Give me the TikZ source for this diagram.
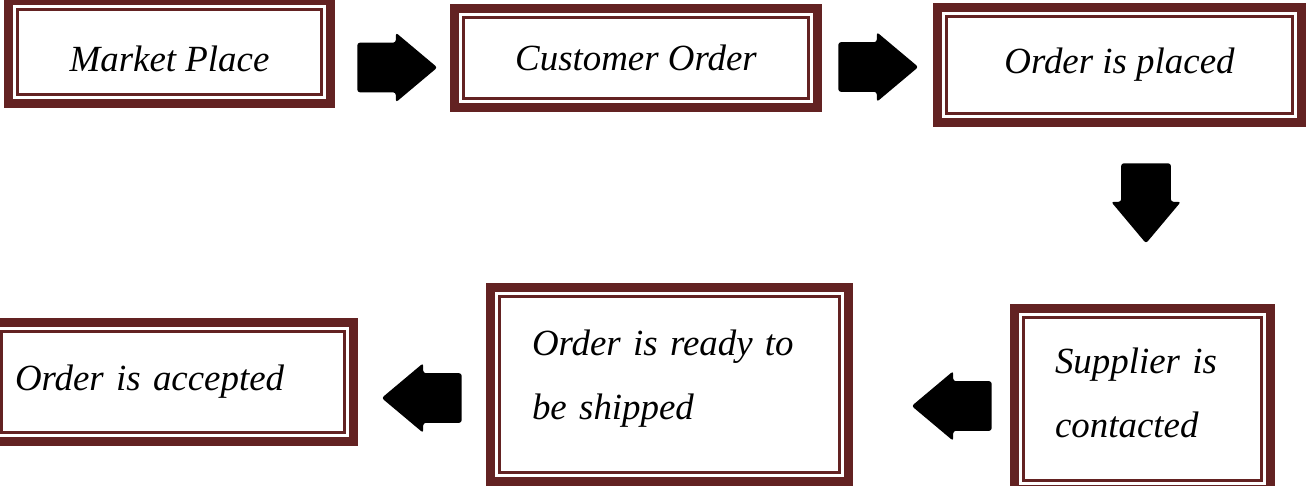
\documentclass[tikz,border=0pt]{standalone}
\usepackage{fontspec}
\setmainfont{Liberation Serif}
\usepackage{xcolor}
\usetikzlibrary{shapes.arrows,positioning,calc}
\definecolor{boxred}{RGB}{99,34,34}

\begin{document}
\begin{tikzpicture}[x=0.02cm, y=-0.02cm,
    stagebox/.style={draw=boxred, line width=0.18cm, fill=white, inner sep=0pt, align=left,
        font=\itshape\fontsize{21}{36.4}\selectfont,
        path picture={\draw[boxred, line width=0.06cm] ([shift={(0.18cm,-0.18cm)}]path picture bounding box.north west) rectangle ([shift={(-0.18cm,0.18cm)}]path picture bounding box.south east);}},
    blockarrow/.style={single arrow, fill=black, rounded corners=1.5pt, inner xsep=0pt, inner ysep=0.49cm,
        minimum height=1.6cm, single arrow head extend=0.2cm, single arrow tip angle=80, anchor=tail}]
    \useasboundingbox (0,0) rectangle (1310,486);

    \node[stagebox, minimum width=6.44cm, minimum height=2.06cm, text height=0.78cm, text depth=0pt] (market) at (169.5,52) {Market Place};
    \node[stagebox, minimum width=7.26cm, minimum height=1.98cm] (custorder) at (636,58) {Customer Order};
    \node[stagebox, minimum width=7.28cm, minimum height=2.30cm] (placed) at (1119.5,65) {Order is placed};

    \node[stagebox, minimum height=3.62cm, text width=3.5cm, inner xsep=0.81cm, text depth=1.52cm] (supplier) at (1142.5,399) {Supplier is\\contacted};
    \node[stagebox, minimum height=3.88cm, text width=5.5cm, inner xsep=0.83cm, text depth=1.68cm] (ready) at (669.5,384.5) {Order is ready to\\be shipped};
    \node[stagebox, minimum height=2.38cm, text width=6.32cm, inner xsep=0.45cm] (accepted) at (173,382) {Order is accepted};

    \node[blockarrow] (arr1) at (357,67.5) {};
    \node[blockarrow] (arr2) at (838,67) {};
    \node[blockarrow, rotate=270] (arr3) at (1146,163) {};
    \node[blockarrow, rotate=180] (arr4) at (992,406) {};
    \node[blockarrow, rotate=180] (arr5) at (462,398) {};
\end{tikzpicture}
\end{document}
